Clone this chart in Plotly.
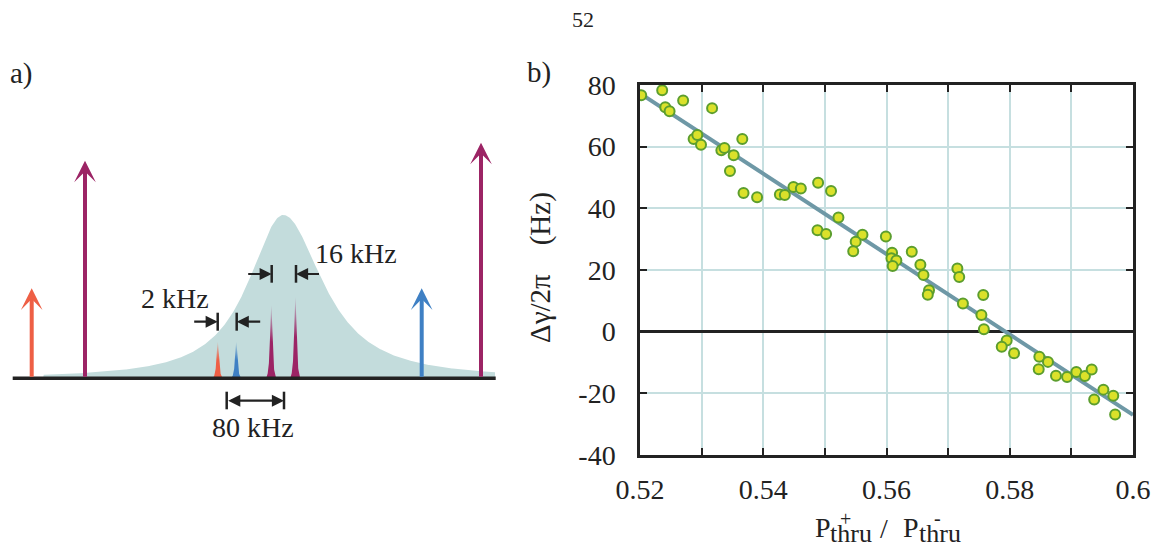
import numpy as np
import plotly.graph_objects as go

# ---------------- right panel data ----------------
ratio = [0.5202, 0.5236, 0.5241, 0.5248, 0.5270, 0.5317, 0.5287, 0.5293, 0.5299, 0.5332,
         0.5337, 0.5352, 0.5346, 0.5366, 0.5368, 0.5390, 0.5427, 0.5435, 0.5449, 0.5461,
         0.5489, 0.5510, 0.5488, 0.5502, 0.5522, 0.5561, 0.5550, 0.5546, 0.5599, 0.5609,
         0.5608, 0.5616, 0.5610, 0.5641, 0.5655, 0.5660, 0.5669, 0.5667, 0.5715, 0.5718,
         0.5724, 0.5757, 0.5754, 0.5758, 0.5795, 0.5787, 0.5807, 0.5848, 0.5862, 0.5847,
         0.5875, 0.5893, 0.5908, 0.5922, 0.5933, 0.5952, 0.5968, 0.5937, 0.5971]
dgamma = [76.7, 78.3, 72.8, 71.5, 75.0, 72.5, 62.5, 63.8, 60.6, 58.8,
          59.6, 57.2, 52.1, 62.5, 45.0, 43.6, 44.5, 44.3, 46.9, 46.4,
          48.3, 45.6, 32.9, 31.7, 37.0, 31.4, 29.2, 26.1, 30.9, 25.6,
          23.8, 23.1, 21.3, 25.9, 21.7, 18.4, 13.4, 12.0, 20.5, 17.7,
          9.1, 11.9, 5.4, 0.8, -2.9, -4.9, -7.0, -8.1, -9.8, -12.2,
          -14.3, -14.7, -13.1, -14.4, -12.3, -18.8, -20.8, -22.0, -26.9]
fit_x = [0.52, 0.60]
fit_y = [77.3, -27.0]

x_tickvals = [0.52, 0.53, 0.54, 0.55, 0.56, 0.57, 0.58, 0.59, 0.60]
x_ticktext = ["0.52", "", "0.54", "", "0.56", "", "0.58", "", "0.6"]
y_tickvals = [-40, -20, 0, 20, 40, 60, 80]
y_ticktext = ["-40", "-20", "0", "20", "40", "60", "80"]

# ---------------- left panel (schematic) data ----------------
# units: x in px, y = height above baseline in px
baseline_x = [12.7, 495.7]
cavity_center = 283.3
cavity_height = 163.3
cavity_gamma_left = 46.0
cavity_gamma_right = 52.0
cavity_span = [43.0, 495.0]

pump_x = [31.7, 85.0, 421.7, 481.0]
pump_h = [90.0, 217.6, 90.0, 235.6]
pump_col = ["#ee5f45", "#9c2465", "#3f80c4", "#9c2465"]

peak_x = [217.7, 236.2, 271.2, 295.3]
peak_h = [36.6, 36.6, 73.3, 81.6]
peak_col = [(238, 95, 69), (63, 128, 196), (156, 36, 101), (156, 36, 101)]

SERIF = "Liberation Serif"
INK = "#222222"
W, H = 1166, 550

fig = go.Figure()

# ---------- left schematic ----------
xs = np.linspace(cavity_span[0], cavity_span[1], 600)
g = np.where(xs < cavity_center, cavity_gamma_left, cavity_gamma_right)
prof = cavity_height / (1 + ((xs - cavity_center) / g) ** 2) ** 1.15
fig.add_trace(go.Scatter(x=np.r_[xs[0], xs, xs[-1]], y=np.r_[0, prof, 0],
                         fill="toself", fillcolor="#c3dcdc", line=dict(width=0),
                         mode="lines", xaxis="x2", yaxis="y2", hoverinfo="skip",
                         showlegend=False))

for px, ph, (r, gg, b) in zip(peak_x, peak_h, peak_col):
    dx = np.linspace(-5, 5, 81)
    pr = 1 / (1 + (dx / 1.4) ** 2)
    pr = (pr - pr.min()) / (pr.max() - pr.min()) * ph
    fig.add_trace(go.Scatter(x=px + dx, y=pr, fill="toself", mode="lines",
                             line=dict(width=0), xaxis="x2", yaxis="y2",
                             fillgradient=dict(type="vertical",
                                               colorscale=[[0, f"rgba({r},{gg},{b},1)"],
                                                           [0.5, f"rgba({r},{gg},{b},1)"],
                                                           [1, f"rgba({r},{gg},{b},0.1)"]],
                                               start=0, stop=ph),
                             hoverinfo="skip", showlegend=False))

fig.add_trace(go.Scatter(x=baseline_x, y=[0, 0], mode="lines",
                         line=dict(color=INK, width=3.5), xaxis="x2", yaxis="y2",
                         hoverinfo="skip", showlegend=False))

# dimension bars
bars = [(217.7, 47.6, 65.6), (236.7, 47.6, 65.6), (271.7, 95.6, 113.3), (296.0, 95.6, 113.3),
        (226.7, -31.0, -13.4), (284.0, -31.0, -13.4)]
for bx, y0, y1 in bars:
    fig.add_trace(go.Scatter(x=[bx, bx], y=[y0, y1], mode="lines",
                             line=dict(color=INK, width=2.5), xaxis="x2", yaxis="y2",
                             hoverinfo="skip", showlegend=False))

annotations = []
for px, ph, c in zip(pump_x, pump_h, pump_col):
    annotations.append(dict(x=px, y=ph, ax=px, ay=0, xref="x2", yref="y2", axref="x2",
                            ayref="y2", text="", showarrow=True, arrowhead=3,
                            arrowsize=0.9, arrowwidth=4, arrowcolor=c, standoff=0))

dim_arrows = [(217.7, 56.6, 192.7), (236.7, 56.6, 261.7),
              (271.7, 104.3, 246.7), (296.0, 104.3, 320.5)]
for hx, hy, tx in dim_arrows:
    annotations.append(dict(x=hx, y=hy, ax=tx, ay=hy, xref="x2", yref="y2", axref="x2",
                            ayref="y2", text="", showarrow=True, arrowhead=2,
                            arrowsize=1.1, arrowwidth=2.2, arrowcolor=INK))
annotations.append(dict(x=284.0, y=-22.4, ax=226.7, ay=-22.4, xref="x2", yref="y2",
                        axref="x2", ayref="y2", text="", showarrow=True, arrowhead=2,
                        arrowside="end+start", arrowsize=1.1, arrowwidth=2.2,
                        arrowcolor=INK))

for txt, tx, ty in [("2 kHz", 175, 378.3 - 301.7 + 3), ("16 kHz", 356, 378.3 - 256.7 + 3),
                    ("80 kHz", 253.3, 378.3 - 430 + 3)]:
    annotations.append(dict(x=tx, y=ty, xref="x2", yref="y2", text=txt, showarrow=False,
                            xanchor="center", yanchor="middle",
                            font=dict(family=SERIF, size=28, color=INK)))


def pap(txt, px, py, sz, **kw):
    d = dict(x=px / W, y=1 - py / H, xref="paper", yref="paper", text=txt,
             showarrow=False, xanchor="center", yanchor="middle",
             font=dict(family=SERIF, size=sz, color=INK))
    d.update(kw)
    annotations.append(d)


# panel labels and page number
pap("a)", 21, 74, 29)
pap("b)", 539, 73, 29)
pap("52", 583, 19, 22)

# axis titles of right panel
pap("Δγ/2π\u00a0\u00a0\u00a0\u00a0(Hz)", 540, 268, 29, textangle=-90)
for txt, px, py, sz in [("P", 822.5, 527, 28), ("thru", 851, 533.5, 26), ("+", 845, 519, 20),
                        ("/", 884, 528, 28), ("P", 911, 527, 28), ("thru", 939.5, 533.5, 26),
                        ("-", 937, 518, 20)]:
    pap(txt, px, py, sz)

# ---------- right panel ----------
fig.add_trace(go.Scatter(x=fit_x, y=fit_y, mode="lines",
                         line=dict(color="#6e98a6", width=4), showlegend=False,
                         hoverinfo="skip"))
fig.add_trace(go.Scatter(x=ratio, y=dgamma, mode="markers",
                         marker=dict(size=10, color="#dbe12a",
                                     line=dict(color="#5c9e2e", width=2)),
                         showlegend=False))

axis_common = dict(showline=True, linewidth=2.5, linecolor=INK, mirror="allticks",
                   ticks="inside", ticklen=7, tickwidth=2, tickcolor=INK,
                   showgrid=True, gridcolor="#c6dfe0", gridwidth=1.5,
                   tickfont=dict(family=SERIF, size=28, color=INK))

fig.update_layout(
    width=W, height=H, margin=dict(l=0, r=0, t=0, b=0, pad=0, autoexpand=False),
    paper_bgcolor="white", plot_bgcolor="rgba(0,0,0,0)", showlegend=False,
    xaxis=dict(domain=[640 / W, 1133 / W], range=[0.52, 0.60], tickvals=x_tickvals,
               ticktext=x_ticktext, zeroline=False, ticklabelstandoff=8, **axis_common),
    yaxis=dict(domain=[1 - 455 / H, 1 - 85 / H], range=[-40, 80], tickvals=y_tickvals,
               ticktext=y_ticktext, zeroline=True, zerolinecolor=INK, zerolinewidth=2.5,
               ticklabelstandoff=16, **axis_common),
    xaxis2=dict(domain=[0, 536 / W], range=[0, 536], visible=False, anchor="y2"),
    yaxis2=dict(domain=[0, 1], range=[-(550 - 378.3), 378.3], visible=False, anchor="x2"),
    annotations=annotations,
)

fig.write_html("out.html")
